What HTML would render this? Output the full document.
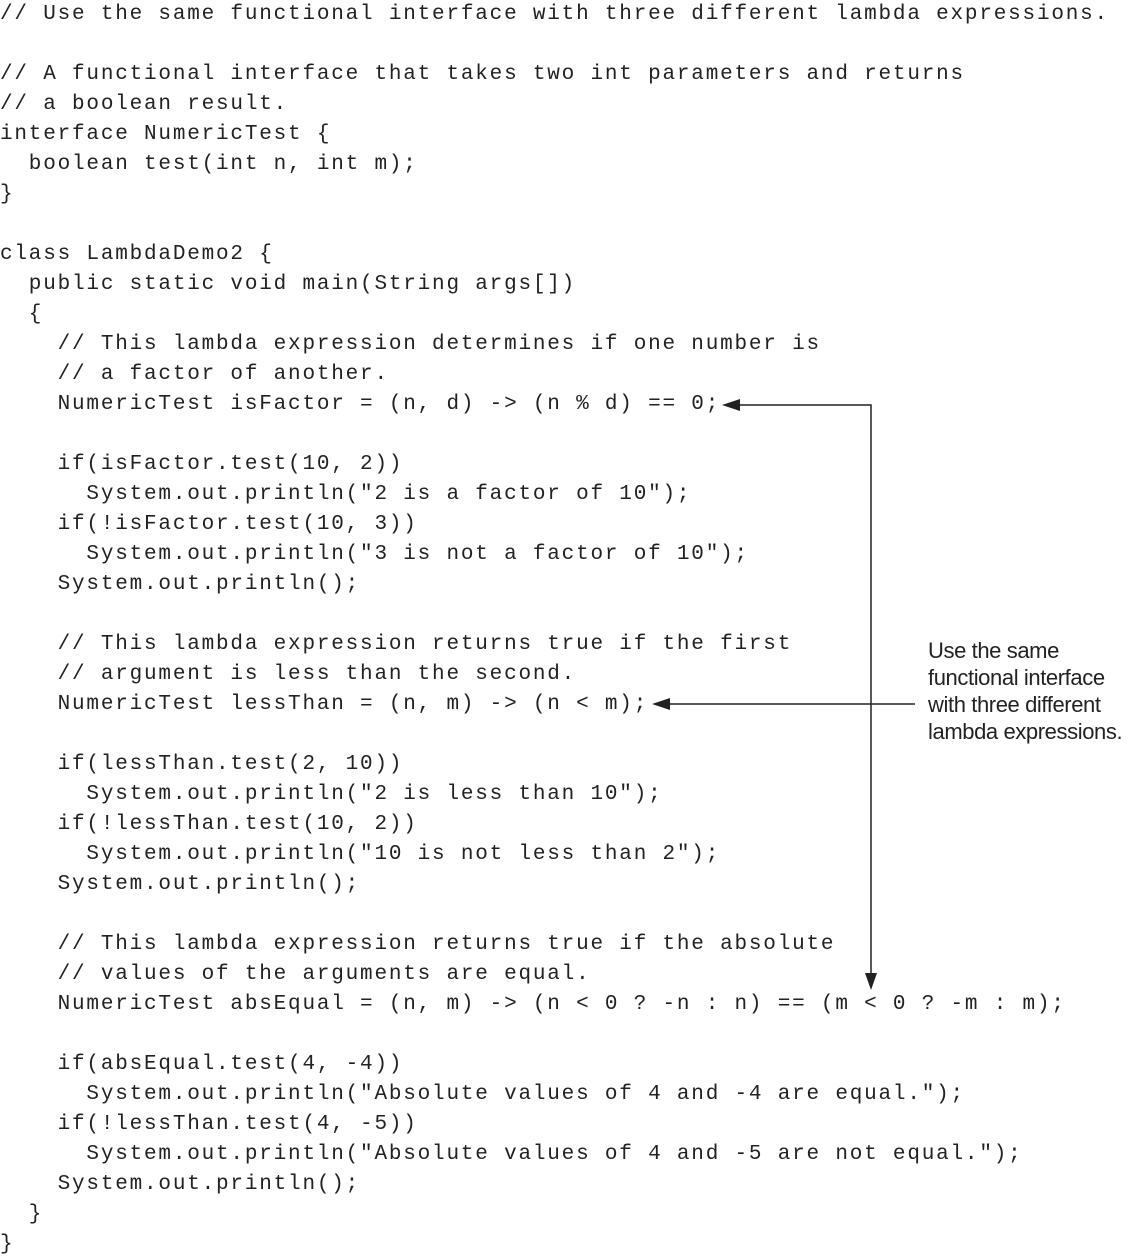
<!DOCTYPE html>
<html><head><meta charset="utf-8"><style>
html,body{margin:0;padding:0;background:#fff;width:1133px;height:1256px;overflow:hidden;position:relative}
pre{position:absolute;left:0;top:0px;margin:0;font-family:"Liberation Mono",monospace;font-size:21px;letter-spacing:1.8px;line-height:30px;color:#222}
.lab{position:absolute;left:928px;top:637px;font-family:"Liberation Sans",sans-serif;font-size:22px;line-height:27px;letter-spacing:-0.4px;color:#222}
svg{position:absolute;left:0;top:0}
</style></head><body>
<pre>// Use the same functional interface with three different lambda expressions.

// A functional interface that takes two int parameters and returns
// a boolean result.
interface NumericTest {
  boolean test(int n, int m);
}

class LambdaDemo2 {
  public static void main(String args[])
  {
    // This lambda expression determines if one number is
    // a factor of another.
    NumericTest isFactor = (n, d) -&gt; (n % d) == 0;

    if(isFactor.test(10, 2))
      System.out.println("2 is a factor of 10");
    if(!isFactor.test(10, 3))
      System.out.println("3 is not a factor of 10");
    System.out.println();

    // This lambda expression returns true if the first
    // argument is less than the second.
    NumericTest lessThan = (n, m) -&gt; (n &lt; m);

    if(lessThan.test(2, 10))
      System.out.println("2 is less than 10");
    if(!lessThan.test(10, 2))
      System.out.println("10 is not less than 2");
    System.out.println();

    // This lambda expression returns true if the absolute
    // values of the arguments are equal.
    NumericTest absEqual = (n, m) -&gt; (n &lt; 0 ? -n : n) == (m &lt; 0 ? -m : m);

    if(absEqual.test(4, -4))
      System.out.println("Absolute values of 4 and -4 are equal.");
    if(!lessThan.test(4, -5))
      System.out.println("Absolute values of 4 and -5 are not equal.");
    System.out.println();
  }
}</pre>
<div class="lab">Use the same<br>functional interface<br>with three different<br>lambda expressions.</div>
<svg width="1133" height="1256">
<g stroke="#222" stroke-width="1.5" fill="none">
<polyline points="738,405 871,405 871,976"/>
<line x1="668" y1="704" x2="915" y2="704"/>
</g>
<g fill="#222">
<polygon points="722,405 740,399 740,411"/>
<polygon points="871,990 865,973 877,973"/>
<polygon points="652,704 670,698 670,710"/>
</g>
</svg>
</body></html>
